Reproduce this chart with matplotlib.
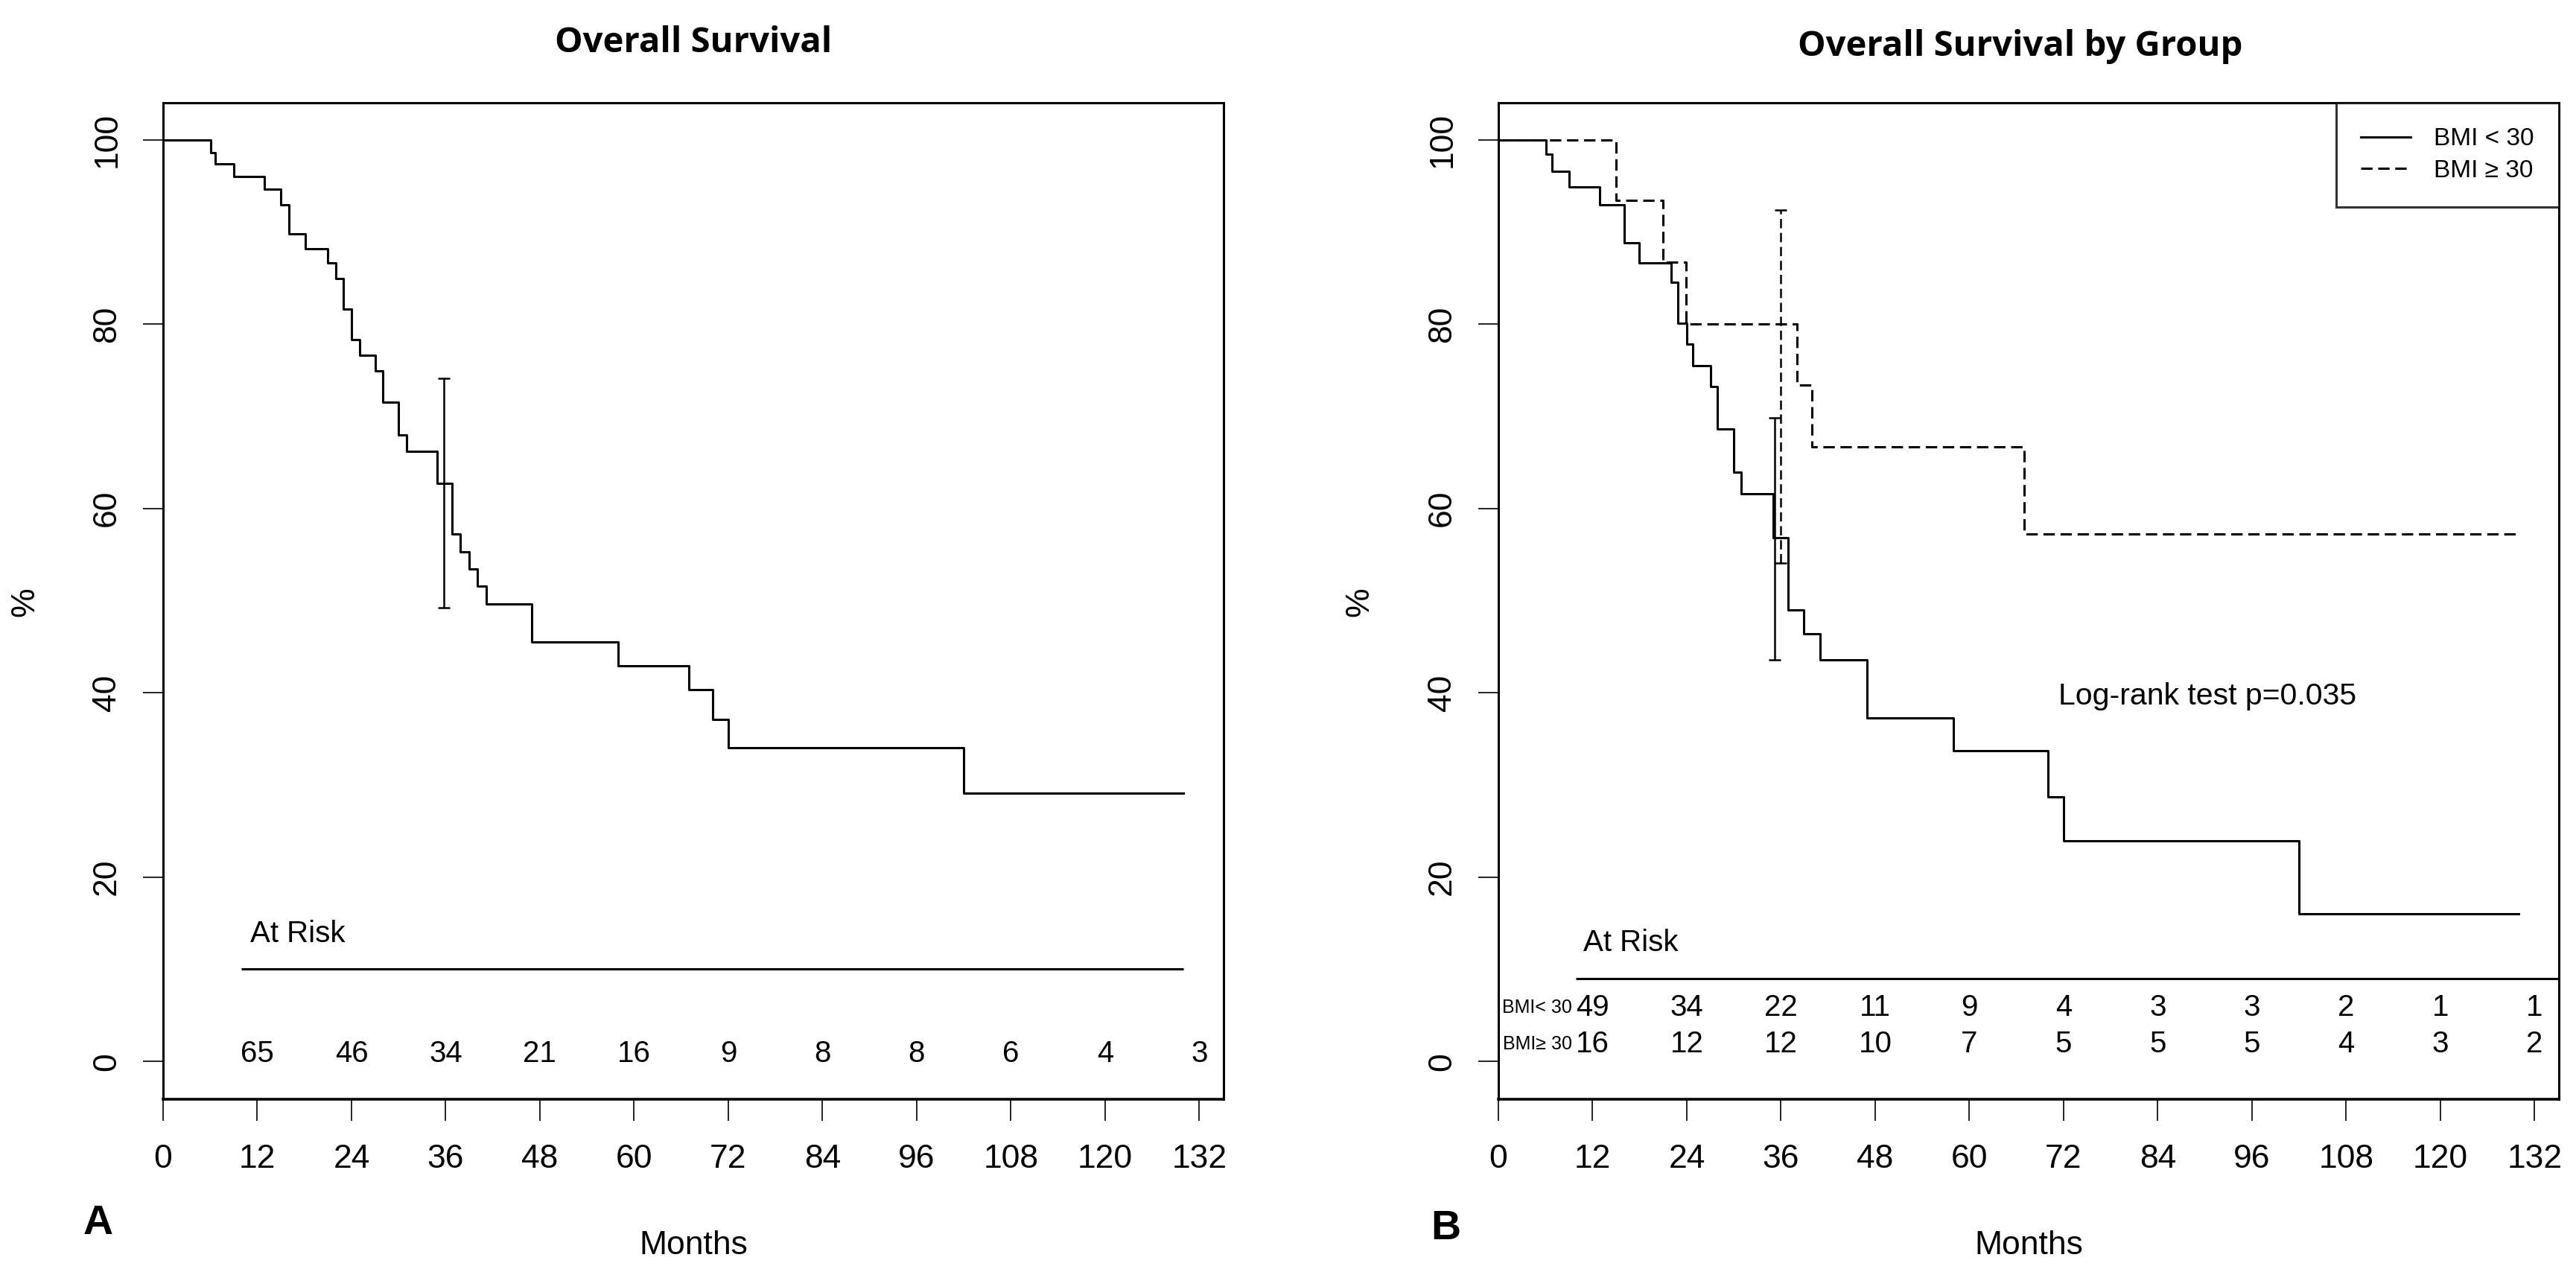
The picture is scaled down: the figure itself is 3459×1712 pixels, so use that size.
import matplotlib
matplotlib.use("Agg")
import matplotlib.pyplot as plt

plt.rcParams["font.family"] = ["Liberation Sans", "DejaVu Sans"]

# overall survival (months, %)
os_time = [0, 6.1, 6.6, 9.0, 12.9, 15.0, 16.0, 18.1, 21.0, 22.0, 23.0, 24.0, 25.0, 27.0, 28.0,
           30.0, 31.0, 34.9, 36.8, 37.9, 39.0, 40.0, 41.2, 47.0, 58.0, 67.0, 70.0, 72.0, 102.0, 130.0]
os_surv = [100, 98.6, 97.4, 96.0, 94.6, 92.9, 89.8, 88.2, 86.6, 84.9, 81.6, 78.3, 76.6, 74.9, 71.5,
           68.0, 66.2, 62.7, 57.2, 55.3, 53.4, 51.6, 49.6, 45.5, 42.9, 40.3, 37.1, 34.0, 29.1, 29.1]
os_ci = [35.8, 49.2, 74.1]  # time, lower, upper

# by group
lo_time = [0, 6.1, 6.8, 9.0, 12.9, 16.0, 17.9, 22.0, 22.9, 24.0, 24.8, 27.0, 27.9, 30.0, 30.9,
           35.0, 36.9, 38.9, 41.0, 47.0, 58.0, 70.0, 72.0, 102.0, 130.0]
lo_surv = [100, 98.4, 96.6, 94.9, 92.9, 88.8, 86.6, 84.5, 80.1, 77.8, 75.5, 73.2, 68.6, 63.9, 61.6,
           56.8, 49.0, 46.4, 43.6, 37.3, 33.7, 28.7, 23.9, 16.0, 16.0]
lo_ci = [35.2, 43.6, 69.8]
hi_time = [0, 15.0, 21.0, 23.9, 38.0, 39.9, 67.0, 130.0]
hi_surv = [100, 93.4, 86.7, 80.0, 73.4, 66.7, 57.2, 57.2]
hi_ci = [36.0, 54.1, 92.4]

# numbers at risk
risk_times = [12, 24, 36, 48, 60, 72, 84, 96, 108, 120, 132]
risk_all = [65, 46, 34, 21, 16, 9, 8, 8, 6, 4, 3]
risk_lo = [49, 34, 22, 11, 9, 4, 3, 3, 2, 1, 1]
risk_hi = [16, 12, 12, 10, 7, 5, 5, 5, 4, 3, 2]

x_ticks = list(range(0, 133, 12))
y_ticks = [0, 20, 40, 60, 80, 100]

W, H = 3459, 1712
fig = plt.figure(figsize=(W / 100, H / 100), dpi=100)
ax1 = fig.add_axes([219 / W, 1 - 1476 / H, (1643 - 219) / W, (1476 - 138) / H])
ax2 = fig.add_axes([2012 / W, 1 - 1476 / H, (3436 - 2012) / W, (1476 - 138) / H])


def style_axes(ax):
    ax.set_xlim(0, 135.1)
    ax.set_ylim(-4.1, 104)
    ax.set_xticks(x_ticks)
    ax.set_yticks(y_ticks)
    ax.tick_params(axis="x", direction="out", length=21, width=1.2, labelsize=32, pad=22)
    ax.tick_params(axis="y", direction="out", length=19.5, width=1.2, labelsize=32, pad=20)
    for lab in ax.get_yticklabels():
        lab.set_rotation(90)
        lab.set_va("center")
    for sp in ax.spines.values():
        sp.set_linewidth(2.2)
    ax.spines["bottom"].set_linewidth(2.6)


def ci_bar(ax, ci, ls):
    mid = (ci[1] + ci[2]) / 2
    half = (ci[2] - ci[1]) / 2
    eb = ax.errorbar([ci[0]], [mid], yerr=[half], fmt="none", ecolor="black",
                     elinewidth=1.8, capsize=6, capthick=1.8)
    if ls != "-":
        eb[2][0].set_linestyle((0, (5, 2.5)))


#Panel A
style_axes(ax1)
ax1.step(os_time, os_surv, where="post", color="black", lw=2.2)
ci_bar(ax1, os_ci, "-")
ax1.hlines(10, 10, 130, color="black", lw=2.2)
ax1.text(11.1, 13.8, "At Risk", fontsize=29, ha="left", va="center")
for t, n in zip(risk_times, risk_all):
    ax1.text(t, 0.8, str(n), fontsize=29, ha="center", va="center")

#Panel B
style_axes(ax2)
ax2.step(lo_time, lo_surv, where="post", color="black", lw=2.2, label="BMI < 30")
ax2.step(hi_time, hi_surv, where="post", color="black", lw=2.2, dashes=(5, 2.5), label="BMI ≥ 30")
ci_bar(ax2, lo_ci, "-")
ci_bar(ax2, hi_ci, "--")
ax2.hlines(9, 9.9, 135.1, color="black", lw=2.2)
ax2.text(10.8, 12.9, "At Risk", fontsize=29, ha="left", va="center")
for t, n in zip(risk_times, risk_lo):
    ax2.text(t, 5.85, str(n), fontsize=29, ha="center", va="center")
for t, n in zip(risk_times, risk_hi):
    ax2.text(t, 1.9, str(n), fontsize=29, ha="center", va="center")
ax2.text(9.35, 5.85, "BMI< 30", fontsize=18, ha="right", va="center")
ax2.text(9.35, 1.9, "BMI≥ 30", fontsize=18, ha="right", va="center")
ax2.text(71.3, 39.6, "Log-rank test p=0.035", fontsize=29.5, ha="left", va="center")

leg = ax2.legend(loc="upper right", fontsize=24, frameon=True, fancybox=False,
                 borderaxespad=0, borderpad=1.0, labelspacing=0.35,
                 handlelength=2.0, handletextpad=0.95)
leg.get_frame().set_edgecolor("black")
leg.get_frame().set_linewidth(2.2)

# titles and labels
fig.text(931 / W, 1 - 58 / H, "Overall Survival", fontsize=34, fontweight="bold",
         family="Open Sans", ha="center", va="center")
fig.text(2713 / W, 1 - 63 / H, "Overall Survival by Group", fontsize=34, fontweight="bold",
         family="Open Sans", ha="center", va="center")
fig.text(34 / W, 1 - 808 / H, "%", fontsize=32, rotation=90, ha="center", va="center")
fig.text(1826 / W, 1 - 808 / H, "%", fontsize=32, rotation=90, ha="center", va="center")
fig.text(931 / W, 1 - 1673 / H, "Months", fontsize=32, ha="center", va="center")
fig.text(2724 / W, 1 - 1673 / H, "Months", fontsize=32, ha="center", va="center")
fig.text(132 / W, 1 - 1643 / H, "A", fontsize=40, fontweight="bold", ha="center", va="center")
fig.text(1941 / W, 1 - 1650 / H, "B", fontsize=40, fontweight="bold", ha="center", va="center")

plt.savefig("out.png", dpi=100)
